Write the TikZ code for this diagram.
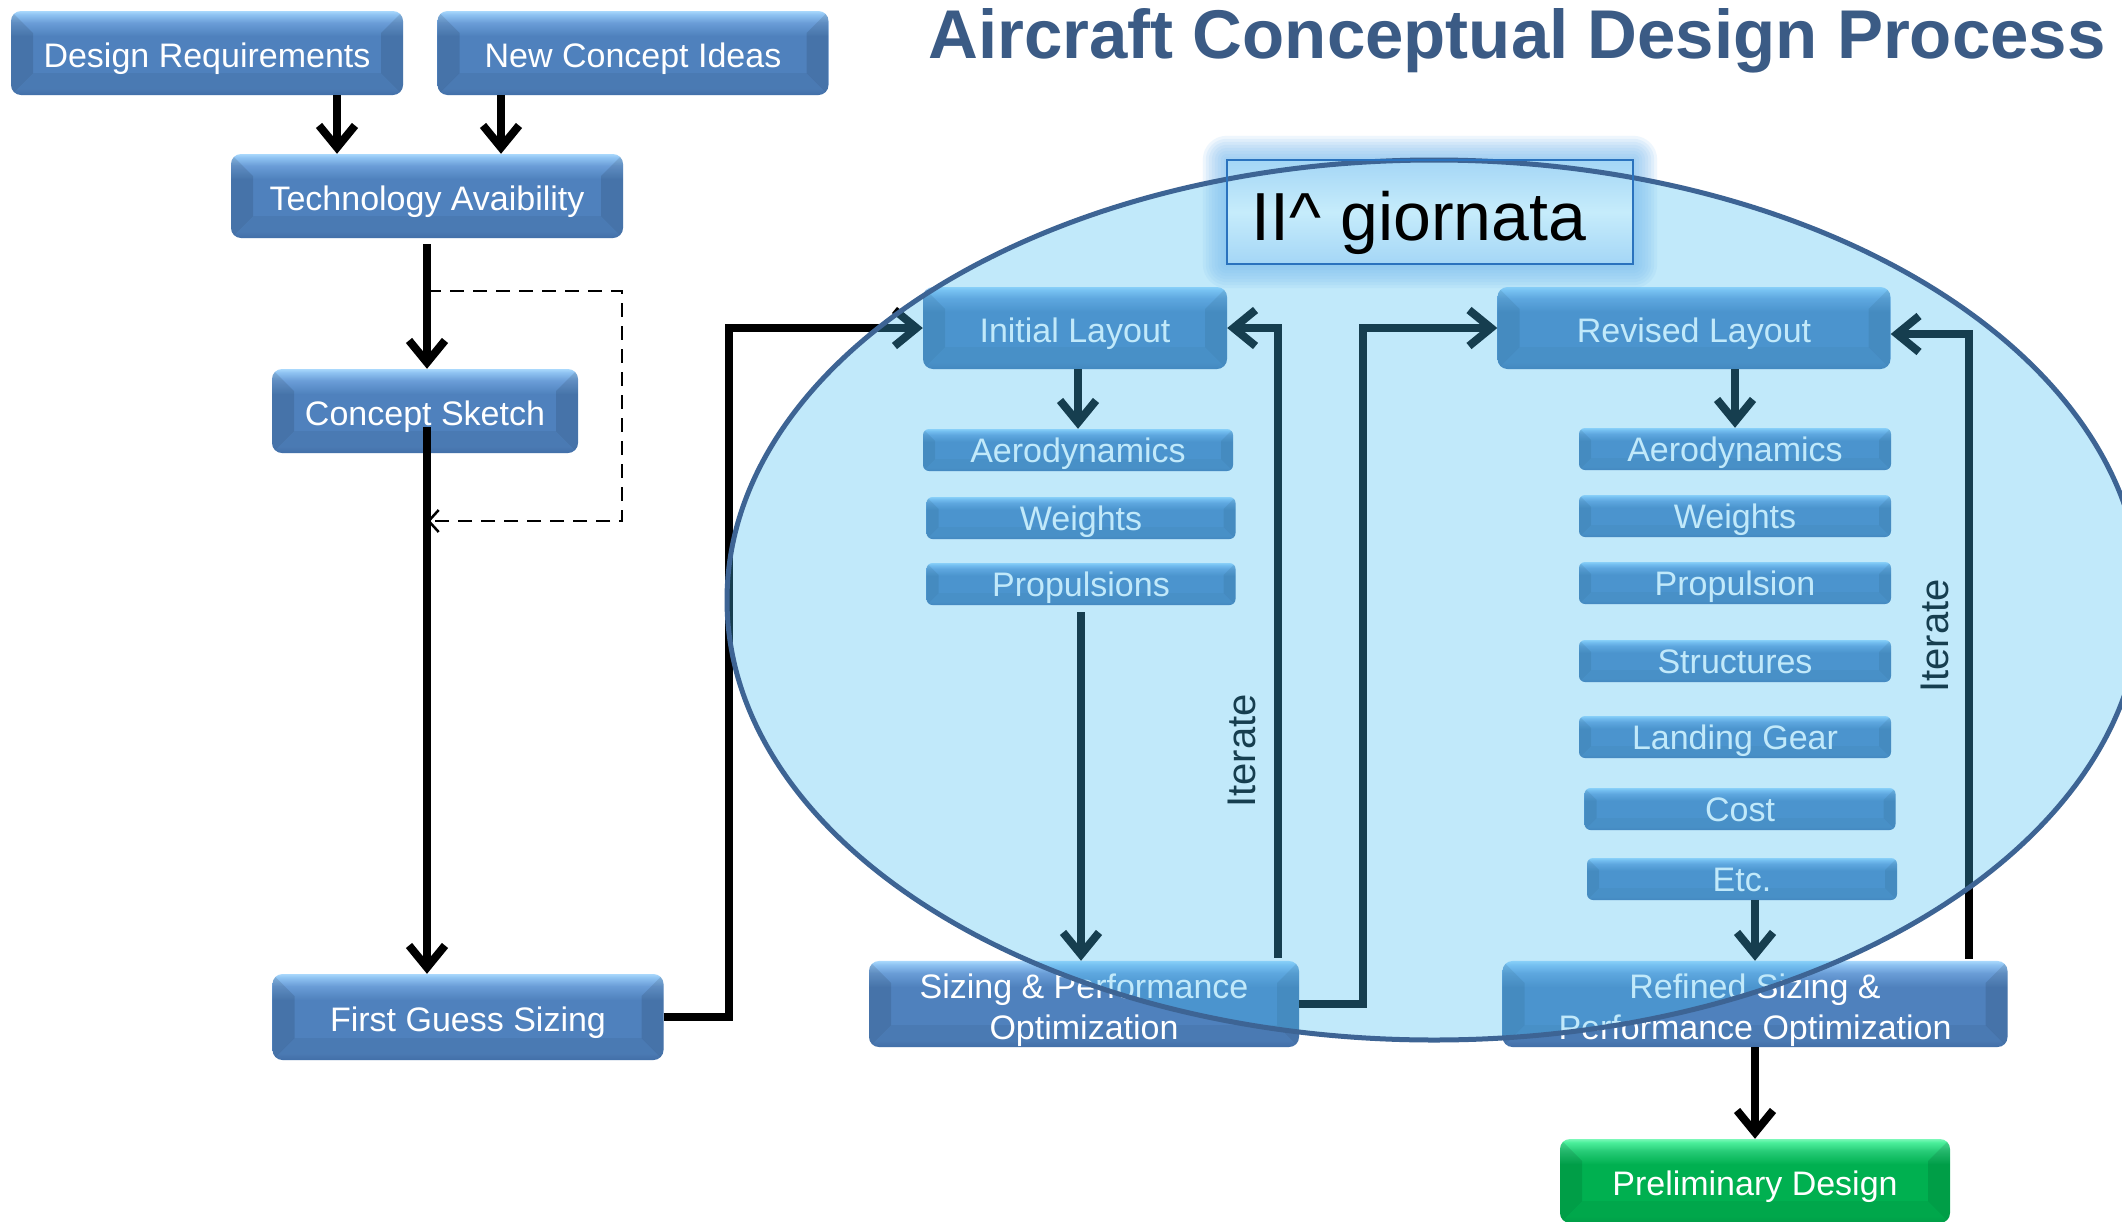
\documentclass[tikz,border=0pt]{standalone}
\usepackage{fontspec}
\setmainfont{Liberation Sans}
\usetikzlibrary{arrows.meta,calc}
\definecolor{bB}{HTML}{4676B2}
\definecolor{bM}{HTML}{4F81BD}
\definecolor{bH}{HTML}{6A9DD7}
\definecolor{bL}{HTML}{8FC3F2}
\definecolor{bT}{HTML}{A9D8FC}
\definecolor{gB}{HTML}{00A64A}
\definecolor{gM}{HTML}{00B050}
\definecolor{gH}{HTML}{28CC78}
\definecolor{gL}{HTML}{4BEF9B}
\definecolor{gT}{HTML}{7AF8B8}
\definecolor{titlec}{HTML}{3B5B85}
\definecolor{ellfill}{HTML}{45BDF1}
\definecolor{ellline}{HTML}{3D6494}
\definecolor{glowc}{HTML}{7DBEF0}
\definecolor{gioT}{HTML}{A4D6F6}
\definecolor{gioM}{HTML}{C6ECFB}
\definecolor{gioline}{HTML}{2A72BE}
\pgfdeclareverticalshading{blueshade}{100bp}{color(0bp)=(bB); color(25bp)=(bB); color(29bp)=(bM); color(60bp)=(bM); color(68bp)=(bH); color(73bp)=(bL); color(75bp)=(bT); color(100bp)=(bT)}
\pgfdeclareverticalshading{greenshade}{100bp}{color(0bp)=(gB); color(25bp)=(gB); color(29bp)=(gM); color(60bp)=(gM); color(68bp)=(gH); color(73bp)=(gL); color(75bp)=(gT); color(100bp)=(gT)}
\newcommand\bxf{\fontsize{34}{41}\selectfont}
\newcommand\itf{\fontsize{40}{48}\selectfont}
\tikzset{
  bevel/.style={path picture={
    \path (path picture bounding box.north west) coordinate (pnw)
          (path picture bounding box.south west) coordinate (psw)
          (path picture bounding box.north east) coordinate (pne)
          (path picture bounding box.south east) coordinate (pse);
    \fill[sharp corners,black,opacity=.10] (pnw) -- ($(pnw)+(#1,-#1)$) -- ($(psw)+(#1,#1)$) -- (psw) -- cycle;
    \fill[sharp corners,black,opacity=.10] (pne) -- ($(pne)+(-#1,-#1)$) -- ($(pse)+(-#1,#1)$) -- (pse) -- cycle;
    \fill[sharp corners,black,opacity=.05] (psw) -- ($(psw)+(#1,#1)$) -- ($(pse)+(-#1,#1)$) -- (pse) -- cycle;
  }},
  box/.style={shade, shading=blueshade, rounded corners=10pt, text=white, font=\bxf,
    inner sep=0pt, align=center, minimum height=84pt},
  big/.style={box, bevel=22pt, text height=28pt, text depth=0pt},
  two/.style={box, bevel=22pt},
  small/.style={box, minimum height=42pt, rounded corners=6pt, bevel=12pt, text height=25pt, text depth=0pt},
  arr/.style={line width=8pt, -{Straight Barb[length=22pt,width=36pt]}},
  dsh/.style={line width=2.5pt, dash pattern=on 14pt off 9pt, -{Straight Barb[length=10pt,width=22pt]}},
}
\begin{document}
\begin{tikzpicture}[x=1pt,y=-1pt]
\useasboundingbox (0,0) rectangle (2122,1221);
\fill[white] (0,0) rectangle (2122,1221);

% title
\node[anchor=base, inner sep=0pt, text=titlec, font=\fontsize{69}{80}\selectfont\bfseries] (title) at (1517,58) {Aircraft Conceptual Design Process};

% left column
\node[big, minimum width=392pt] (dr) at (207,53) {Design Requirements};
\node[big, minimum width=391pt] (nci) at (633,53) {New Concept Ideas};
\node[big, minimum width=392pt] (ta) at (427,196) {Technology Avaibility};
\node[big, minimum width=306pt] (cs) at (425,411) {Concept Sketch};
\node[big, minimum width=391pt, minimum height=86pt] (fgs) at (468,1017) {First Guess Sizing};

% inner left column
\node[big, minimum width=304pt, minimum height=82pt] (il) at (1075,328) {Initial Layout};
\node[small, minimum width=310pt] (aeroL) at (1078,450) {Aerodynamics};
\node[small, minimum width=309pt] (weiL) at (1081,518) {Weights};
\node[small, minimum width=309pt] (propL) at (1081,584) {Propulsions};
\node[two, minimum width=430pt, minimum height=86pt] (spo) at (1084,1004) {\rule{0pt}{38pt}Sizing \& Performance\\Optimization};

% inner right column
\node[big, minimum width=393pt, minimum height=82pt] (rl) at (1694,328) {Revised Layout};
\node[small, minimum width=312pt] (aeroR) at (1735,449) {Aerodynamics};
\node[small, minimum width=312pt] (weiR) at (1735,516) {Weights};
\node[small, minimum width=312pt] (propR) at (1735,583) {Propulsion};
\node[small, minimum width=312pt] (strR) at (1735,661) {Structures};
\node[small, minimum width=312pt] (lgR) at (1735,737) {Landing Gear};
\node[small, minimum width=311pt] (costR) at (1740,809) {Cost};
\node[small, minimum width=310pt] (etcR) at (1742,879) {Etc.};
\node[two, minimum width=505pt] (rsp) at (1755,1004) {\rule{0pt}{38pt}Refined Sizing \&\\Performance Optimization};
\node[big, shading=greenshade, minimum width=390pt] (pd) at (1755,1181) {Preliminary Design};

% connectors
\draw[arr] (dr.south -| 337,0) -- (ta.north -| 337,0);
\draw[arr] (nci.south -| 501,0) -- (ta.north -| 501,0);
\draw[arr] ([yshift=-6pt]ta.south) -- (ta.south |- cs.north);
\draw[line width=8pt] ([yshift=-16pt]ta.south |- cs.center) -- (ta.south |- 0,700);
\draw[arr] (ta.south |- 0,700) -- (ta.south |- fgs.north);
\coordinate (d1) at (427,291);
\coordinate (dc) at (622,521);
\coordinate (d2) at (427,521);
\draw[dsh] (d1) -| (dc) -- (d2);
\draw[arr] (fgs.east) -- ++(65,0) |- (il.west);
\draw[arr] (aeroL.north |- il.south) -- (aeroL.north);
\draw[arr] ([yshift=-7pt]propL.south) -- (propL.south |- spo.north);
\draw[arr] ([xshift=-21pt,yshift=3pt]spo.north east) |- (il.east);
\draw[arr] (spo.east) -- ++(64,0) |- (rl.west);
\draw[arr] (rl.south -| aeroR.north) -- (aeroR.north);
\draw[arr] (etcR.south -| rsp.north) -- (rsp.north);
\draw[arr] ([xshift=-39pt,yshift=2pt]rsp.north east) |- ([yshift=-6pt]rl.east);
\draw[arr] (rsp.south) -- (pd.north);

\node[rotate=90, font=\itf, inner sep=0pt] (it1) at (1242,751) {Iterate};
\node[rotate=90, font=\itf, inner sep=0pt] (it2) at (1935,636) {Iterate};

% ellipse fill
\fill[ellfill, fill opacity=.33] (1434,600) ellipse [x radius=707pt, y radius=440pt];

% giornata box with glow
\path (1430,212) node[minimum width=406pt, minimum height=104pt, inner sep=0pt] (gio) {};
\foreach \g in {24,21,...,3} {
  \fill[glowc, fill opacity=.13, rounded corners=\g pt] ($(gio.north west)+(-\g pt,\g pt)$) rectangle ($(gio.south east)+(\g pt,-\g pt)$);
}
\shade[top color=gioT, bottom color=gioT, middle color=gioM] (gio.north west) rectangle (gio.south east);

% ellipse border
\draw[ellline, line width=5pt] (1434,600) ellipse [x radius=707pt, y radius=440pt];

\draw[gioline, line width=2.5pt] (gio.north west) rectangle (gio.south east);
\node[font=\fontsize{68}{80}\selectfont, text=black, inner sep=0pt, anchor=base] (giot) at (1419,240) {II\textasciicircum\ giornata};
\end{tikzpicture}
\end{document}
